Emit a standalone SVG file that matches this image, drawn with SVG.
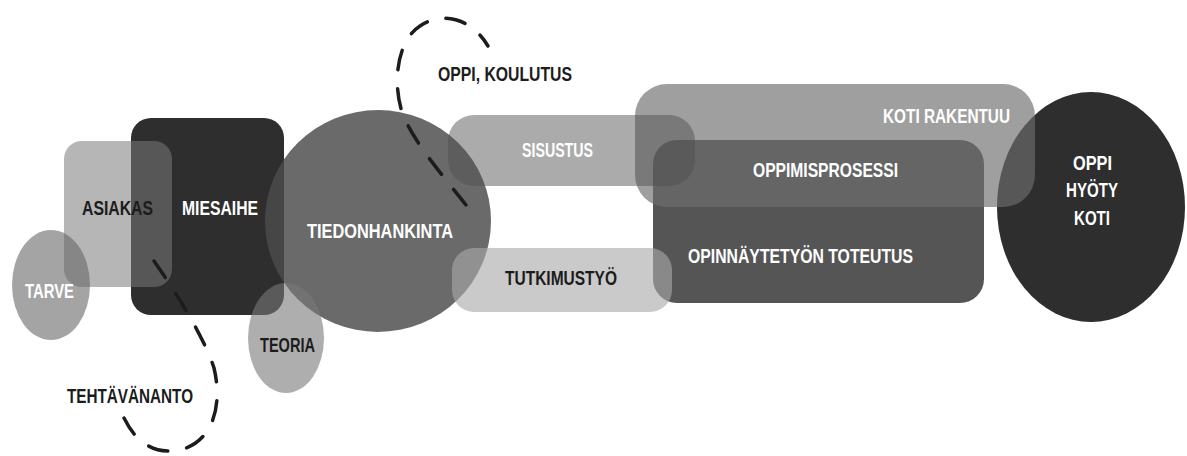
<svg xmlns="http://www.w3.org/2000/svg" width="1187" height="456" viewBox="0 0 1187 456">
<style>
text{font-family:"Liberation Sans",Arial,sans-serif;font-weight:bold;font-size:21px}
.w{fill:#ffffff}
.k{fill:#1c1c1c}
.dash{fill:none;stroke:#1c1c1c;stroke-width:3.5;stroke-linecap:round;stroke-dasharray:20 19}
</style>
<rect width="1187" height="456" fill="#ffffff"/>
<g id="miesaihe">
<rect x="131" y="118" width="153" height="197" rx="20" fill="#2e2e2e"/>
<text class="w" x="182" y="215" textLength="76" lengthAdjust="spacingAndGlyphs">MIESAIHE</text>
</g>
<g id="asiakas">
<rect x="64" y="141" width="108" height="146" rx="18" fill="#7a7a7a" fill-opacity="0.55"/>
<text class="k" x="82" y="215" textLength="71" lengthAdjust="spacingAndGlyphs">ASIAKAS</text>
</g>
<g id="tarve">
<ellipse cx="51" cy="285" rx="39" ry="55" fill="#646464" fill-opacity="0.59"/>
<text class="w" x="25" y="298" textLength="49" lengthAdjust="spacingAndGlyphs">TARVE</text>
</g>
<g id="tiedonhankinta">
<ellipse cx="378" cy="221" rx="113" ry="111" fill="#4c4c4c" fill-opacity="0.83"/>
<text class="w" x="307" y="238" textLength="146" lengthAdjust="spacingAndGlyphs">TIEDONHANKINTA</text>
</g>
<g id="teoria">
<ellipse cx="286" cy="338" rx="38" ry="55" fill="#787878" fill-opacity="0.6"/>
<text class="k" x="260" y="352" textLength="55" lengthAdjust="spacingAndGlyphs">TEORIA</text>
</g>
<g id="toteutus">
<rect x="653" y="140" width="331" height="163" rx="24" fill="#464646" fill-opacity="0.92"/>
<text class="w" x="688" y="263" textLength="225" lengthAdjust="spacingAndGlyphs">OPINNÄYTETYÖN TOTEUTUS</text>
</g>
<g id="tutkimustyo">
<rect x="452" y="248" width="220" height="64" rx="22" fill="#aaaaaa" fill-opacity="0.62"/>
<text class="k" x="505" y="285" textLength="112" lengthAdjust="spacingAndGlyphs">TUTKIMUSTYÖ</text>
</g>
<g id="oppi-hyoty-koti">
<ellipse cx="1091" cy="207" rx="94" ry="115" fill="#2e2e2e"/>
</g>
<g id="koti-rakentuu">
<rect x="635" y="84" width="400" height="123" rx="32" fill="#6e6e6e" fill-opacity="0.66"/>
<text class="w" x="883" y="123" textLength="127" lengthAdjust="spacingAndGlyphs">KOTI RAKENTUU</text>
</g>
<g id="sisustus">
<rect x="448" y="115" width="247" height="71" rx="26" fill="#505050" fill-opacity="0.48"/>
<text class="w" x="522" y="157" textLength="71" lengthAdjust="spacingAndGlyphs">SISUSTUS</text>
</g>
<g id="oppimisprosessi">
<text class="w" x="753" y="177" textLength="145" lengthAdjust="spacingAndGlyphs">OPPIMISPROSESSI</text>
</g>
<g id="oppi-hyoty-koti-text">
<text class="w" x="1092.5" y="170" text-anchor="middle" textLength="39" lengthAdjust="spacingAndGlyphs">OPPI</text>
<text class="w" x="1092" y="197" text-anchor="middle" textLength="52" lengthAdjust="spacingAndGlyphs">HYÖTY</text>
<text class="w" x="1092" y="225" text-anchor="middle" textLength="36" lengthAdjust="spacingAndGlyphs">KOTI</text>
</g>
<g id="oppi-koulutus">
<text class="k" x="438" y="81" textLength="134" lengthAdjust="spacingAndGlyphs">OPPI, KOULUTUS</text>
</g>
<g id="tehtavananto">
<text class="k" x="67" y="403" textLength="126" lengthAdjust="spacingAndGlyphs">TEHTÄVÄNANTO</text>
</g>
<g id="connectors">
<path class="dash" d="M466 205 C440 172 412 140 402 112 C392 80 398 40 420 26 C440 12 470 16 488 46"/>
<path class="dash" d="M154 261 C180 298 205 340 214 368 C224 410 210 448 172 451 C150 452 135 440 124 418"/>
</g>
</svg>
